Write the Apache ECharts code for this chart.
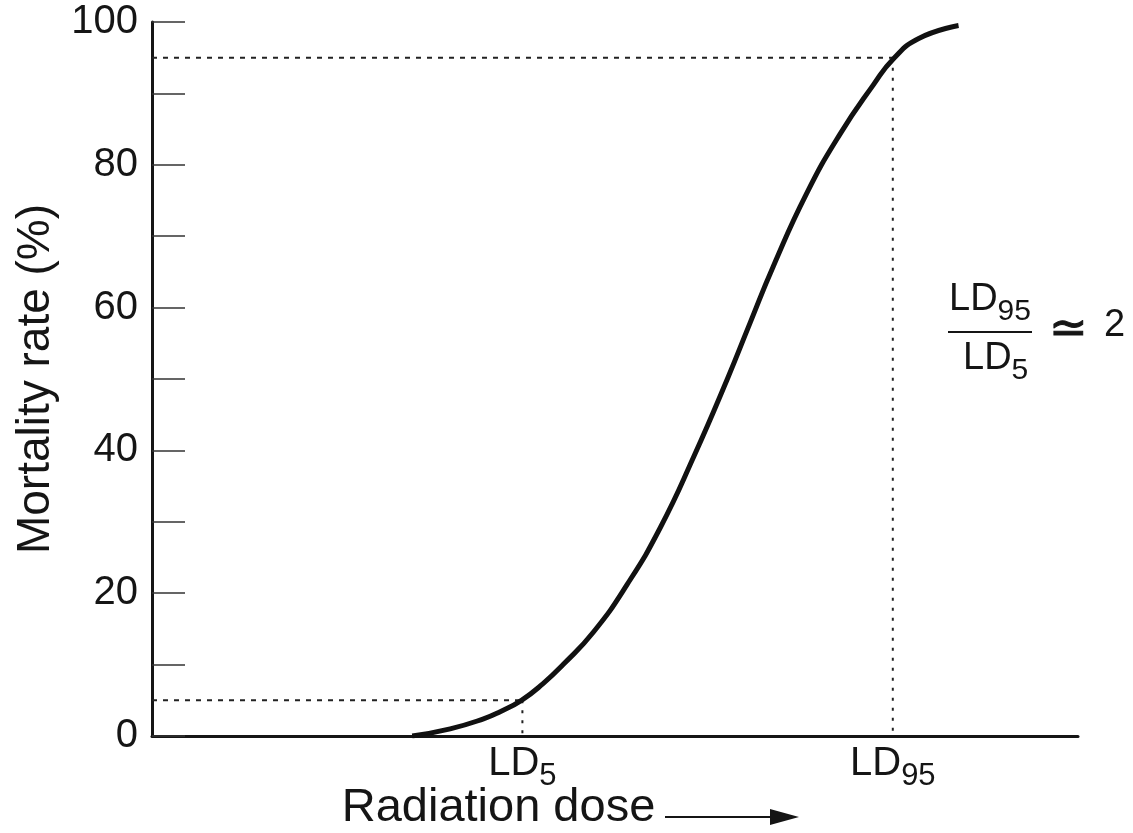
<!DOCTYPE html>
<html>
<head>
<meta charset="utf-8">
<script src="https://cdn.jsdelivr.net/npm/echarts@6/dist/echarts.min.js"></script>
<style>
  html, body { margin: 0; padding: 0; background: #fff; }
  #chart { width: 1133px; height: 833px; }
</style>
</head>
<body>
<div id="chart"></div>
<script>
// dose-response curve (dose in arbitrary units, 0-100 across the axis)
const doseValues = [28.1, 32.2, 35.8, 37.6, 39.9, 42.2, 44.4, 47.7, 51.3, 54.9, 58.5, 62.1, 64.6, 67.1, 70.7, 74.3, 77.9, 80.1, 82.8, 87.1]
const mortalityValues = [0, 1.0, 2.4, 3.4, 5.0, 7.3, 10.0, 14.6, 21.2, 29.2, 39.1, 49.9, 57.9, 65.8, 76.0, 84.3, 91.2, 94.9, 97.7, 99.5]

// LD5 / LD95 markers
const ldNames = ['5', '95']
const ldDose = [40, 80]
const ldRate = [5, 95]

const yTickLabels = [0, 20, 40, 60, 80, 100]

const font = '"Liberation Sans", Arial, Helvetica, sans-serif'
const ink = '#151515'

const chart = echarts.init(document.getElementById('chart'))

const curve = doseValues.map((d, i) => [d, mortalityValues[i]])

const guideSeries = []
ldDose.forEach((d, i) => {
  guideSeries.push({
    type: 'line',
    symbol: 'none',
    silent: true,
    data: [[0, ldRate[i]], [d, ldRate[i]]],
    lineStyle: { color: '#222', width: 2, type: [5, 6] },
    z: 1
  })
  guideSeries.push({
    type: 'line',
    symbol: 'none',
    silent: true,
    data: [[d, ldRate[i]], [d, 0]],
    lineStyle: { color: '#222', width: 2, type: [3, 7] },
    z: 1
  })
})

const makeRich = (size) => ({
  m: { fontSize: size, fontFamily: font, color: ink, padding: [0, 0, 8, 0], verticalAlign: 'bottom' },
  s: { fontSize: Math.round(size * 0.78), fontFamily: font, color: ink, verticalAlign: 'bottom' }
})
const ldText = (sub) => '{m|LD}{s|' + sub + '}'

chart.setOption({
  backgroundColor: '#fff',
  animation: false,
  grid: { left: 152, right: 55, top: 22, bottom: 97, containLabel: false, outerBoundsMode: 'none' },
  xAxis: {
    type: 'value',
    min: 0,
    max: 100,
    name: 'Radiation dose',
    nameLocation: 'middle',
    nameGap: 49,
    nameMoveOverlap: false,
    nameTextStyle: { fontSize: 47, fontFamily: font, color: ink, padding: [0, 233, 0, 0] },
    axisLine: { show: true, lineStyle: { color: ink, width: 3 } },
    axisTick: { show: false },
    splitLine: { show: false },
    axisLabel: {
      customValues: ldDose,
      margin: 8,
      formatter: (v) => ldText(ldNames[ldDose.indexOf(v)]),
      rich: makeRich(40),
      color: ink
    }
  },
  yAxis: {
    type: 'value',
    min: 0,
    max: 100,
    interval: 10,
    name: 'Mortality rate (%)',
    nameLocation: 'middle',
    nameRotate: 90,
    nameGap: 93,
    nameTextStyle: { fontSize: 46, fontFamily: font, color: ink },
    axisLine: { show: true, lineStyle: { color: ink, width: 3 } },
    axisTick: { show: true, inside: true, length: 33, lineStyle: { color: '#333', width: 1.5 } },
    splitLine: { show: false },
    axisLabel: {
      customValues: yTickLabels,
      margin: 14,
      fontSize: 40,
      fontFamily: font,
      color: ink
    }
  },
  series: [
    ...guideSeries,
    {
      type: 'line',
      symbol: 'none',
      smooth: 0.5,
      silent: true,
      data: curve,
      lineStyle: { color: '#111', width: 5, cap: 'butt' },
      z: 3
    }
  ],
  graphic: [
    // arrow after the axis name
    {
      type: 'line',
      shape: { x1: 665, y1: 817, x2: 780, y2: 817 },
      style: { stroke: ink, lineWidth: 2 }
    },
    {
      type: 'polygon',
      shape: { points: [[770, 809], [799, 817], [770, 825]] },
      style: { fill: ink }
    },
    // LD95 / LD5 ratio
    {
      type: 'text',
      x: 949,
      y: 281,
      style: { text: ldText('95'), rich: makeRich(38), verticalAlign: 'top', fill: ink }
    },
    {
      type: 'line',
      shape: { x1: 948, y1: 332, x2: 1032, y2: 332 },
      style: { stroke: ink, lineWidth: 2 }
    },
    {
      type: 'text',
      x: 963,
      y: 340,
      style: { text: ldText('5'), rich: makeRich(38), verticalAlign: 'top', fill: ink }
    },
    {
      type: 'text',
      x: 1049,
      y: 331,
      style: { text: '≃', fontSize: 46, fontFamily: 'DejaVu Sans', fill: ink, stroke: ink, lineWidth: 1, verticalAlign: 'middle' }
    },
    {
      type: 'text',
      x: 1104,
      y: 307,
      style: { text: '2', fontSize: 38, fontFamily: font, fill: ink, verticalAlign: 'top' }
    }
  ]
})
</script>
</body>
</html>
